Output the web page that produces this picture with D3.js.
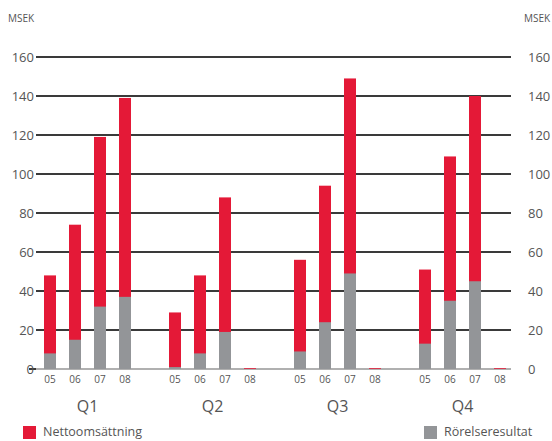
<!DOCTYPE html>
<html><head><meta charset="utf-8">
<script src="https://cdn.jsdelivr.net/npm/d3@7"></script>
<style>body{margin:0;background:#fff}svg{display:block}text{font-family:"Open Sans",Lato,sans-serif;fill:#555}</style>
</head><body><svg id="c" width="552" height="441"></svg>
<script>
const quarters = ["Q1","Q2","Q3","Q4"];
const years = ["05","06","07","08"];
const nettoomsattning = [
  [48, 74, 119, 139],
  [29, 48, 88, 0.4],
  [56, 94, 149, 0.4],
  [51, 109, 140, 0.4]
];
const rorelseresultat = [
  [8, 15, 32, 37],
  [1, 8, 19, 0],
  [9, 24, 49, 0],
  [13, 35, 45, 0]
];
const yTicks = [0, 20, 40, 60, 80, 100, 120, 140, 160];
const seriesNames = ["Nettoomsättning", "Rörelseresultat"];
const colors = ["#e41937", "#939598"];

const svg = d3.select("#c");
const y = d3.scaleLinear().domain([0, 160]).range([369, 57]);
const xq = d3.scaleBand().domain(quarters).range([37.5, 537.5]);
const xy = d3.scaleBand().domain(years).range([0, 100]).paddingInner(0.52).paddingOuter(0.26);
const gx0 = 36, gx1 = 511;

// gridlines
svg.append("g").selectAll("line").data(yTicks.filter(d => d > 0)).join("line")
  .attr("x1", gx0).attr("x2", gx1).attr("y1", d => y(d)).attr("y2", d => y(d))
  .attr("stroke", "#3a3a3a").attr("stroke-width", 2);
svg.append("line").attr("x1", gx0).attr("x2", gx1).attr("y1", y(0)).attr("y2", y(0))
  .attr("stroke", "#b0b0b0").attr("stroke-width", 2);
svg.append("line").attr("x1", 29).attr("x2", gx0).attr("y1", y(0)).attr("y2", y(0))
  .attr("stroke", "#3a3a3a").attr("stroke-width", 2);

// axes labels
const leftAxis = d3.axisLeft(y).tickValues(yTicks).tickSize(0).tickPadding(0);
svg.append("g").attr("transform", "translate(34,0)").call(leftAxis)
  .call(g => g.select(".domain").remove())
  .selectAll("text").style("font-size", "13px").style("fill", "#555").style("font-family", "'Open Sans',sans-serif");
const rightAxis = d3.axisRight(y).tickValues(yTicks).tickSize(0).tickPadding(0);
svg.append("g").attr("transform", "translate(528,0)").call(rightAxis)
  .call(g => g.select(".domain").remove())
  .selectAll("text").style("font-size", "13px").style("fill", "#555").style("font-family", "'Open Sans',sans-serif");

svg.append("text").attr("x", 8).attr("y", 22).style("font-size", "10px").text("MSEK");
svg.append("text").attr("x", 524).attr("y", 22).style("font-size", "10px").text("MSEK");

// bars
quarters.forEach((q, qi) => {
  const g = svg.append("g").attr("transform", `translate(${xq(q)},0)`);
  g.selectAll("rect.n").data(nettoomsattning[qi]).join("rect").attr("class", "n")
    .attr("x", (d, i) => xy(years[i])).attr("width", xy.bandwidth())
    .attr("y", d => y(d)).attr("height", d => y(0) - y(d)).attr("fill", colors[0]);
  g.selectAll("rect.r").data(rorelseresultat[qi]).join("rect").attr("class", "r")
    .attr("x", (d, i) => xy(years[i])).attr("width", xy.bandwidth())
    .attr("y", d => y(d)).attr("height", d => y(0) - y(d)).attr("fill", colors[1]);
  g.selectAll("text.yr").data(years).join("text").attr("class", "yr")
    .attr("x", d => xy(d) + xy.bandwidth() / 2).attr("y", 383)
    .attr("text-anchor", "middle").style("font-size", "10px").text(d => d);
  g.append("text").attr("x", 50).attr("y", 412).attr("text-anchor", "middle")
    .style("font-size", "16px").text(q);
});

// legend
const lx = [23, 424];
seriesNames.forEach((s, i) => {
  svg.append("rect").attr("x", lx[i]).attr("y", 426).attr("width", 13).attr("height", 13).attr("fill", colors[i]);
  svg.append("text").attr("x", lx[i] + 20).attr("y", 436).style("font-size", "12.5px").text(s);
});
</script></body></html>
